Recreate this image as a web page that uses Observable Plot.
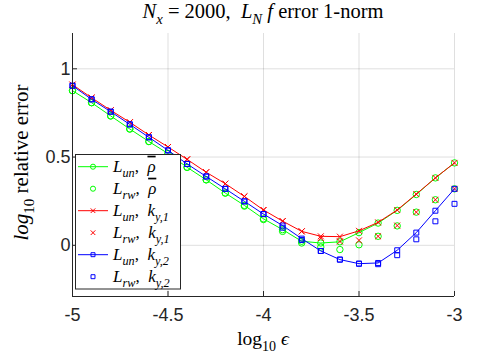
<!DOCTYPE html>
<html><head><meta charset="utf-8">
<script src="https://cdn.jsdelivr.net/npm/d3@7"></script>
<script src="https://cdn.jsdelivr.net/npm/@observablehq/plot@0.6"></script>
<style>
html,body{margin:0;padding:0;background:#fff;}
</style>
</head><body><div id="chart"></div>
<script>
// x values: log10 epsilon
const logEps = [-5.0,-4.9,-4.8,-4.7,-4.6,-4.5,-4.4,-4.3,-4.2,-4.1,-4.0,-3.9,-3.8,-3.7,-3.6,-3.5,-3.4,-3.3,-3.2,-3.1,-3.0];
// L_un, rho-bar (green line + circles)
const greenUn = [0.876,0.808,0.733,0.659,0.588,0.520,0.442,0.371,0.296,0.226,0.150,0.089,0.023,0.013,0.020,0.072,0.126,0.198,0.288,0.382,0.467];
// L_rw, rho-bar (green circles)
const greenRw = [0.876,0.808,0.733,0.659,0.588,0.520,0.442,0.371,0.296,0.222,0.146,0.079,0.013,-0.010,-0.024,0.003,0.051,0.110,0.188,0.258,0.320];
// L_un, k_{y,1} (red line + x)
const redUn = [0.910,0.836,0.765,0.697,0.625,0.557,0.487,0.414,0.349,0.277,0.200,0.137,0.079,0.051,0.049,0.082,0.130,0.200,0.290,0.382,0.467];
// L_rw, k_{y,1} (red x)
const redRw = [0.910,0.836,0.765,0.697,0.625,0.557,0.487,0.414,0.349,0.277,0.200,0.137,0.079,0.041,0.022,0.028,0.051,0.112,0.188,0.258,0.320];
// L_un, k_{y,2} (blue line + squares)
const blueUn = [0.904,0.827,0.757,0.685,0.612,0.538,0.461,0.390,0.320,0.249,0.177,0.112,0.038,-0.032,-0.081,-0.104,-0.100,-0.028,0.072,0.196,0.320];
// L_rw, k_{y,2} (blue squares)
const blueRw = [0.904,0.827,0.757,0.685,0.612,0.538,0.461,0.390,0.320,0.249,0.177,0.100,0.030,-0.032,-0.081,-0.104,-0.107,-0.056,0.034,0.136,0.235];

const xTicks = [-5,-4.5,-4,-3.5,-3];
const yTicks = [0,0.5,1];
const xDomain = [-5,-3];
const yDomain = [-0.29,1.2];

const seriesValues = [greenUn, greenRw, redUn, redRw, blueUn, blueRw];
const seriesColors = ["#00ff00","#00ff00","#ff0000","#ff0000","#0000ff","#0000ff"];
const seriesSymbols = ["circle","circle","times","times","square","square"];
const seriesHasLine = [true,false,true,false,true,false];
const symbolR = {circle:3.2, times:2.8, square:2.8};

function rows(vals){ return logEps.map((x,i)=>({x, y: vals[i]})); }

const marks = [
  Plot.gridX(xTicks, {stroke:"#262626", strokeOpacity:0.15, strokeWidth:1}),
  Plot.gridY(yTicks, {stroke:"#262626", strokeOpacity:0.15, strokeWidth:1}),
];
seriesValues.forEach((vals, i) => {
  const data = rows(vals);
  if (seriesHasLine[i]) marks.push(Plot.line(data, {x:"x", y:"y", stroke: seriesColors[i], strokeWidth: 1}));
  marks.push(Plot.dot(data, {x:"x", y:"y", stroke: seriesColors[i], symbol: seriesSymbols[i], r: symbolR[seriesSymbols[i]], strokeWidth: 1, fill: "none"}));
});
marks.push(
  Plot.ruleX([xDomain[0]], {stroke:"#262626", strokeWidth:1}),
  Plot.ruleY([yDomain[0]], {stroke:"#262626", strokeWidth:1}),
  Plot.axisX(xTicks, {tickSize:-5, tickPadding:17, tickFormat: d => String(d), label: null, stroke:"#262626"}),
  Plot.axisY(yTicks, {tickSize:-5, tickPadding:7, tickFormat: d => String(d), label: null, stroke:"#262626"})
);

const plot = Plot.plot({
  width: 503, height: 356,
  marginLeft: 72, marginRight: 49, marginTop: 33, marginBottom: 60,
  x: {domain: xDomain},
  y: {domain: yDomain},
  style: {fontFamily: "Liberation Sans, Arial, sans-serif", fontSize: "18px", color: "#262626", background: "#fff"},
  marks
});
document.getElementById("chart").appendChild(plot);

const svg = d3.select(plot);
const serif = "Liberation Serif, 'DejaVu Serif', serif";

function rich(g, parts, size, anchor){
  const t = g.append("text").attr("font-family", serif).attr("font-size", size)
    .attr("fill", "#000").attr("text-anchor", anchor);
  let shift = 0;
  parts.forEach(p => {
    const target = p.sub ? Math.round(size*0.3) : 0;
    const ts = t.append("tspan").text(p.t)
      .attr("font-style", p.it ? "italic" : "normal")
      .attr("dy", target - shift);
    if (p.sub) ts.attr("font-size", size*0.72);
    if (p.bar) ts.style("text-decoration", "overline");
    shift = target;
  });
  return t;
}

// Title
rich(svg.append("g").attr("transform","translate(263,18)"), [
  {t:"N", it:true},{t:"x", it:true, sub:true},{t:" = 2000,  "},{t:"L", it:true},{t:"N", it:true, sub:true},{t:" f", it:true},{t:" error 1-norm"}
], 20.5, "middle");

// X label
rich(svg.append("g").attr("transform","translate(263,345)"), [
  {t:"log"},{t:"10", sub:true},{t:" \u03f5", it:true}
], 19.5, "middle");

// Y label
rich(svg.append("g").attr("transform","translate(28,162.5) rotate(-90)"), [
  {t:"log", it:true},{t:"10", sub:true},{t:" relative error"}
], 21, "middle");

// Legend
const lg = svg.append("g");
lg.append("rect").attr("x",75.5).attr("y",154.5).attr("width",105).attr("height",134.5)
  .attr("fill","#fff").attr("stroke","#262626").attr("stroke-width",1);
const legendLabels = [
  [{t:"L",it:true},{t:"un",it:true,sub:true},{t:",  "},{t:"\u03c1",it:true,bar:true}],
  [{t:"L",it:true},{t:"rw",it:true,sub:true},{t:",  "},{t:"\u03c1",it:true,bar:true}],
  [{t:"L",it:true},{t:"un",it:true,sub:true},{t:",  "},{t:"k",it:true},{t:"y,1",it:true,sub:true}],
  [{t:"L",it:true},{t:"rw",it:true,sub:true},{t:",  "},{t:"k",it:true},{t:"y,1",it:true,sub:true}],
  [{t:"L",it:true},{t:"un",it:true,sub:true},{t:",  "},{t:"k",it:true},{t:"y,2",it:true,sub:true}],
  [{t:"L",it:true},{t:"rw",it:true,sub:true},{t:",  "},{t:"k",it:true},{t:"y,2",it:true,sub:true}],
];
const d3Sym = {circle: d3.symbolCircle, times: d3.symbolTimes, square: d3.symbolSquare};
legendLabels.forEach((parts, i) => {
  const cy = 166.7 + i*22;
  if (seriesHasLine[i]) lg.append("line").attr("x1",78).attr("x2",108).attr("y1",cy).attr("y2",cy)
    .attr("stroke", seriesColors[i]).attr("stroke-width",1);
  const r = symbolR[seriesSymbols[i]] * 0.8;
  lg.append("path").attr("transform",`translate(93,${cy})`)
    .attr("d", d3.symbol(d3Sym[seriesSymbols[i]], Math.PI*r*r)())
    .attr("fill","none").attr("stroke", seriesColors[i]).attr("stroke-width",1);
  rich(lg.append("g").attr("transform",`translate(113,${cy+5})`), parts, 17, "start");
});
</script>
</body></html>
